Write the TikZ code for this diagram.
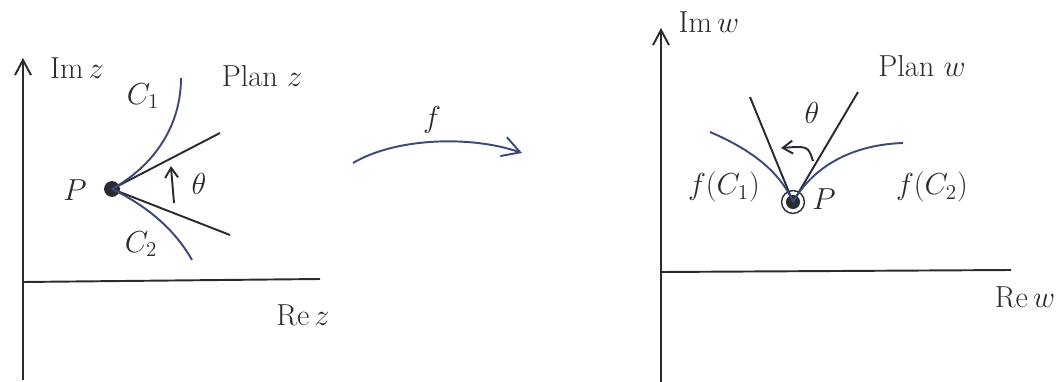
\documentclass[tikz,border=0pt]{standalone}
\usetikzlibrary{arrows.meta, positioning, calc}
\definecolor{cink}{HTML}{2A2A33}
\definecolor{cpen}{HTML}{3B4A78}
\tikzset{
  every picture/.style={line width=1.1pt},
  axis/.style={draw=cink, -{Straight Barb[length=3mm, width=3.2mm]}},
  tanline/.style={draw=cink},
  curve/.style={draw=cpen},
  arrow/.style={-{Straight Barb[length=3.5mm, width=4mm]}, draw=cpen},
  lbl/.style={font=\LARGE, text=cink, inner sep=1pt},
  dot/.style={circle, fill=cink, inner sep=0pt, minimum size=9pt},
}

\begin{document}
\begin{tikzpicture}[x=0.02cm, y=-0.02cm]
  \useasboundingbox (0,0) rectangle (1059,382);
  % plan z
  \coordinate (zbot) at (23,380);
  \coordinate (ztop) at (23,58);
  \coordinate (zorig) at (23,282);
  \coordinate (zre) at (320,279);
  \draw[axis] (zbot) -- (ztop);
  \draw[tanline] (zorig) -- (zre);
  \node[lbl] (imz) at (77,68) {$\mathrm{Im}\,z$};
  \node[lbl] (rez) at (303,315) {$\mathrm{Re}\,z$};
  \node[lbl] (planz) at (262,76) {Plan $z$};
  \node[dot] (pz) at (112,189) {};
  \node[lbl] (pzl) at (75,190) {$P$};
  \coordinate (tz1) at (220,133);
  \coordinate (tz2) at (230,235);
  \coordinate (cz1) at (181,78);
  \coordinate (cz2) at (192,260);
  \draw[tanline] (pz.center) -- (tz1);
  \draw[tanline] (pz.center) -- (tz2);
  \draw[curve] (pz.center) .. controls (155,165) and (181,125) .. (cz1);
  \draw[curve] (pz.center) .. controls (145,205) and (174,228) .. (cz2);
  \node[lbl] (c1) at (143,96) {$C_1$};
  \node[lbl] (c2) at (141,244) {$C_2$};
  \coordinate (az1) at (174,203);
  \coordinate (az2) at (171,166);
  \draw[arrow, draw=cink, -{Straight Barb[length=2mm, width=2.6mm]}] (az1) .. controls (172,186) .. (az2);
  \node[lbl] (thz) at (199,184) {$\theta$};
  % the map f
  \coordinate (fa) at (353,163);
  \coordinate (fb) at (522,153);
  \draw[arrow] (fa) .. controls (395,138) and (470,135) .. (fb);
  \node[lbl] (f) at (432,120) {$f$};
  % plan w
  \coordinate (wbot) at (661,382);
  \coordinate (wtop) at (661,28);
  \coordinate (worig) at (661,272);
  \coordinate (wre) at (1011,270);
  \draw[axis] (wbot) -- (wtop);
  \draw[tanline] (worig) -- (wre);
  \node[lbl] (imw) at (709,22) {$\mathrm{Im}\,w$};
  \node[lbl] (rew) at (1025,297) {$\mathrm{Re}\,w$};
  \node[lbl] (planw) at (922,66) {Plan $w$};
  \node[dot, minimum size=8pt] (pw) at (793,202) {};
  \node[draw=cink, circle, line width=0.8pt, minimum size=13pt, inner sep=0pt] (pwr) at (793,202) {};
  \node[lbl] (pwl) at (824,199) {$P$};
  \coordinate (tw1) at (750,97);
  \coordinate (tw2) at (858,92);
  \coordinate (cw1) at (710,132);
  \coordinate (cw2) at (903,143);
  \draw[tanline] (pw.center) -- (tw1);
  \draw[tanline] (pw.center) -- (tw2);
  \draw[curve] (pw.center) .. controls (780,172) and (752,150) .. (cw1);
  \draw[curve] (pw.center) .. controls (810,172) and (845,145) .. (cw2);
  \node[lbl] (fc1) at (724,187) {$f(C_1)$};
  \node[lbl] (fc2) at (932,187) {$f(C_2)$};
  \coordinate (aw1) at (813,161);
  \coordinate (aw2) at (781,148);
  \draw[arrow, draw=cink, -{Straight Barb[length=2mm, width=2.6mm]}] (aw1) .. controls (808,146) .. (aw2);
  \node[lbl] (thw) at (812,113) {$\theta$};
\end{tikzpicture}
\end{document}
